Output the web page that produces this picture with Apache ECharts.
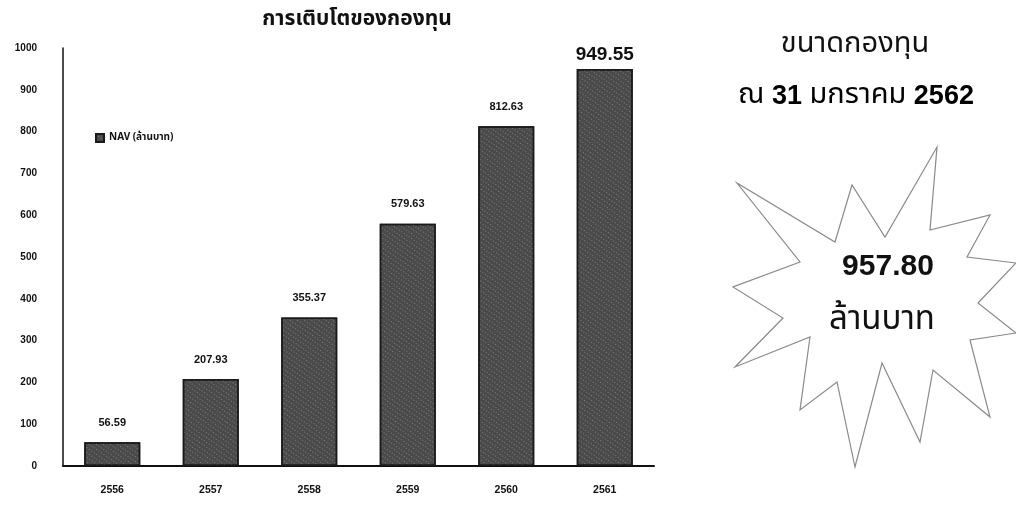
<!DOCTYPE html>
<html>
<head>
<meta charset="utf-8">
<script src="https://cdn.jsdelivr.net/npm/echarts@6/dist/echarts.min.js"></script>
<style>
html,body{margin:0;padding:0;background:#fff;}
#chart{width:1016px;height:527px;}
</style>
</head>
<body>
<div id="chart"></div>
<script>
const years = ['2556', '2557', '2558', '2559', '2560', '2561'];
const navValues = [56.59, 207.93, 355.37, 579.63, 812.63, 949.55];
const yTicks = { min: 0, max: 1000, interval: 100 };
const seriesName = 'NAV (ล้านบาท)';
const chartTitle = 'การเติบโตของกองทุน';
const sideTitle1 = 'ขนาดกองทุน';
const sideTitle2a = 'ณ ';
const sideTitle2b = '31';
const sideTitle2c = ' มกราคม ';
const sideTitle2d = '2562';
const fundSize = '957.80';
const fundUnit = 'ล้านบาท';

const starPts = [[937,147],[930,230],[990,215],[967,257],[1016,263],[978,303],[1016,333],[970,340],[990,417],[933,370],[920,442],[882,363],[855,467],[837,382],[800,410],[810,337],[735,367],[783,318],[733,287],[800,262],[737,183],[835,242],[852,185],[885,237]];

const thaiFont = '"Noto Sans Thai","Loma","Garuda","Tlwg Typo","Norasi","Liberation Sans","DejaVu Sans",sans-serif';
const chart = echarts.init(document.getElementById('chart'));
const lastIdx = navValues.length - 1;
chart.setOption({
  backgroundColor: '#fff',
  animation: false,
  title: {
    text: chartTitle, left: 352, top: 5, textAlign: 'center',
    textStyle: { fontFamily: thaiFont, fontSize: 21, fontWeight: 'bold', color: '#111' }
  },
  legend: {
    data: [seriesName], left: 90, top: 128, icon: 'rect', itemWidth: 8, itemHeight: 8, itemGap: 4,
    textStyle: { fontFamily: thaiFont, fontSize: 10, fontWeight: 'bold', color: '#111' }
  },
  grid: { left: 63, right: 362, top: 48, bottom: 61 },
  xAxis: {
    type: 'category', data: years,
    axisLine: { lineStyle: { color: '#111', width: 2 } },
    axisTick: { show: false },
    axisLabel: { margin: 19, fontFamily: 'Liberation Sans, Arial', fontSize: 10.5, fontWeight: 'bold', color: '#111' }
  },
  yAxis: {
    type: 'value', min: yTicks.min, max: yTicks.max, interval: yTicks.interval,
    axisLine: { show: true, lineStyle: { color: '#111', width: 1.5 } },
    axisTick: { show: false },
    splitLine: { show: false },
    axisLabel: { margin: 26, padding: [0, 0, 8, 0], formatter: v => String(v), fontFamily: 'Liberation Sans, Arial', fontSize: 10, fontWeight: 'bold', color: '#111' }
  },
  series: [{
    name: seriesName, type: 'bar', data: navValues.map((v, i) => i === lastIdx ? {
      value: v, label: { fontSize: 19, distance: 5 }
    } : v),
    barWidth: 56,
    itemStyle: {
      color: '#4a4a4a', borderColor: '#1a1a1a', borderWidth: 1.5,
      decal: { symbol: 'rect', symbolSize: 1, color: 'rgba(255,255,255,0.3)', dashArrayX: [1, 2], dashArrayY: [1, 3], rotation: 0.6 }
    },
    label: {
      show: true, position: 'top', distance: 14,
      formatter: p => p.value.toFixed(2),
      fontFamily: 'Liberation Sans, Arial', fontSize: 11, fontWeight: 'bold', color: '#111'
    }
  }],
  graphic: [
    { type: 'polygon', shape: { points: starPts }, style: { fill: 'none', stroke: '#8a8a8a', lineWidth: 1.2 } },
    { type: 'text', x: 855, y: 46, style: { text: sideTitle1, textAlign: 'center', textVerticalAlign: 'middle', font: '29px ' + thaiFont, fill: '#111' } },
    { type: 'text', x: 856, y: 97, style: {
      text: '{t|' + sideTitle2a + '}{b|' + sideTitle2b + '}{t|' + sideTitle2c + '}{b|' + sideTitle2d + '}',
      textAlign: 'center', textVerticalAlign: 'middle',
      rich: {
        t: { fontFamily: thaiFont, fontSize: 29, color: '#111' },
        b: { fontFamily: '"Liberation Sans", Arial, sans-serif', fontSize: 27, fontWeight: 'bold', color: '#111' }
      }
    } },
    { type: 'text', x: 888, y: 267, style: { text: fundSize, textAlign: 'center', textVerticalAlign: 'middle', font: 'bold 30px "Liberation Sans", Arial, sans-serif', fill: '#111' } },
    { type: 'text', x: 882, y: 322, style: { text: fundUnit, textAlign: 'center', textVerticalAlign: 'middle', font: '33px ' + thaiFont, fill: '#111' } }
  ]
});
</script>
</body>
</html>
